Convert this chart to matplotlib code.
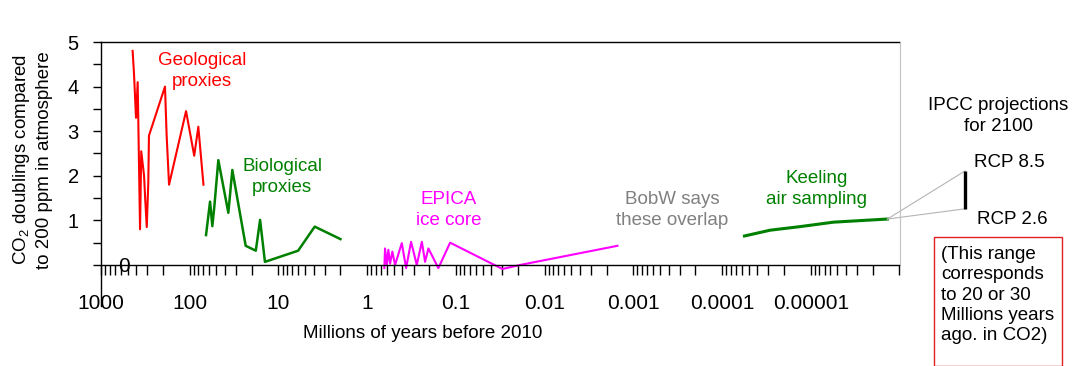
import matplotlib
matplotlib.use('Agg')
import matplotlib.pyplot as plt
from matplotlib.patches import Rectangle

plt.rcParams['font.family'] = ['Liberation Sans', 'DejaVu Sans']
plt.rcParams['mathtext.fontset'] = 'custom'
plt.rcParams['mathtext.rm'] = 'Liberation Sans'
plt.rcParams['mathtext.default'] = 'rm'

# age in millions of years before 2010, CO2 as doublings over 200 ppm
geo_age = [440, 425, 403, 386, 363, 352, 327, 317, 305, 293, 288,
           190, 182, 171, 110, 89, 80, 70]
geo_co2 = [4.8, 4.3, 3.3, 4.1, 0.8, 2.55, 2.0, 1.45, 0.85, 1.85, 2.9,
           4.0, 2.9, 1.8, 3.45, 2.45, 3.1, 1.8]

bio_age = [65.5, 59, 55.6, 52.8, 47.6, 36.7, 33.1, 23.4, 18, 16.1, 14.2, 6.0, 3.9, 2.0]
bio_co2 = [0.67, 1.42, 0.87, 1.31, 2.35, 1.17, 2.13, 0.43, 0.32, 1.01, 0.07, 0.32, 0.86, 0.58]

epica_age = [0.64, 0.629, 0.601, 0.577, 0.552, 0.52, 0.485, 0.407, 0.364, 0.32,
             0.276, 0.242, 0.2225, 0.204, 0.1576, 0.1162, 0.0299, 0.0189, 0.00151]
epica_co2 = [-0.07, 0.37, 0.0, 0.34, 0.03, 0.30, 0.0, 0.49, -0.07, 0.52,
             0.0, 0.52, 0.07, 0.37, -0.07, 0.50, -0.09, 0.0, 0.43]

keeling_age = [5.59e-5, 2.87e-5, 1.32e-5, 5.55e-6, 1.37e-6]
keeling_co2 = [0.65, 0.78, 0.86, 0.96, 1.03]

ipcc_x = 1.82e-7
ipcc_range = [1.26, 2.11]   # RCP 2.6, RCP 8.5

decades = [1000, 100, 10, 1, 0.1, 0.01, 0.001, 0.0001, 0.00001, 0.000001]
decade_labels = ['1000', '100', '10', '1', '0.1', '0.01', '0.001', '0.0001', '0.00001', '']

W, H = 1080, 366
fig = plt.figure(figsize=(W / 100, H / 100), dpi=100)
ax = fig.add_axes([101 / W, 1 - 306 / H, 798.5 / W, 264 / H])

def ftext(px, py, s, **kw):
    fig.text(px / W, 1 - py / H, s, **kw)

ax.plot(geo_age, geo_co2, color='#ff0000', lw=1.5)
ax.plot(bio_age, bio_co2, color='#008000', lw=1.8)
ax.plot(epica_age, epica_co2, color='#ff00ff', lw=1.5)
ax.plot(keeling_age, keeling_co2, color='#008000', lw=2.2)

# IPCC range bar and connectors from the last Keeling point
for v in ipcc_range:
    ax.plot([keeling_age[-1], ipcc_x], [keeling_co2[-1], v], color='#b4b4b4', lw=0.8, clip_on=False)
ax.plot([ipcc_x, ipcc_x], ipcc_range, color='black', lw=2.4, clip_on=False, solid_capstyle='butt')

ax.set_xscale('log')
ax.set_xlim(1000, 1e-6)
ax.set_ylim(-0.92, 5)

ax.set_xticks(decades)
ax.set_xticklabels(decade_labels)
minor = [d * k for d in decades[1:] for k in range(2, 10)]
ax.set_xticks(minor, minor=True)
ax.set_yticks([0, 1, 2, 3, 4, 5])
ax.set_yticklabels(['', '1', '2', '3', '4', '5'])
ax.set_yticks([0.5, 1.5, 2.5, 3.5, 4.5], minor=True)

ax.tick_params(axis='x', which='both', direction='out', length=7, width=1, pad=14, labelsize=15)
ax.tick_params(axis='y', which='both', direction='out', length=6, width=1, pad=10, labelsize=14.5)

ax.spines['bottom'].set_position(('data', 0))
ax.spines['right'].set_bounds(0, 5)
ax.spines['right'].set_color('#c0c0c0')
for s in ['left', 'top', 'bottom']:
    ax.spines[s].set_color('black')
    ax.spines[s].set_linewidth(1)

ftext(124, 266, '0', fontsize=15, ha='center', va='center')

ftext(32, 160, 'CO$_2$ doublings compared\nto 200 ppm in atmosphere', fontsize=13.5,
      rotation=90, ha='center', va='center', linespacing=1.3)
ftext(423, 333, 'Millions of years before 2010', fontsize=13.5, ha='center', va='center')

ls = 1.25
ftext(202, 71, 'Geological\nproxies', color='#ff0000', fontsize=13.5, ha='center', va='center', linespacing=ls)
ftext(282, 177, 'Biological\nproxies', color='#008000', fontsize=13.5, ha='center', va='center', linespacing=ls)
ftext(449, 210, 'EPICA\nice core', color='#ff00ff', fontsize=13.5, ha='center', va='center', linespacing=ls)
ftext(672, 210, 'BobW says\nthese overlap', color='#808080', fontsize=13.5, ha='center', va='center', linespacing=ls)
ftext(817, 189, 'Keeling\nair sampling', color='#008000', fontsize=13.5, ha='center', va='center', linespacing=ls)

ftext(998, 116, 'IPCC projections\nfor 2100', fontsize=13.5, ha='center', va='center', linespacing=ls)
ftext(974, 162, 'RCP 8.5', fontsize=13.5, ha='left', va='center')
ftext(977, 220, 'RCP 2.6', fontsize=13.5, ha='left', va='center')

fig.patches.append(Rectangle((934 / W, 0), 128 / W, 1 - 237 / H, transform=fig.transFigure,
                             fill=False, edgecolor='#e02020', lw=1))
ftext(941, 295, '(This range\ncorresponds\nto 20 or 30\nMillions years\nago. in CO2)',
      fontsize=13.5, ha='left', va='center', linespacing=1.24)

fig.savefig('out.png', dpi=100)
